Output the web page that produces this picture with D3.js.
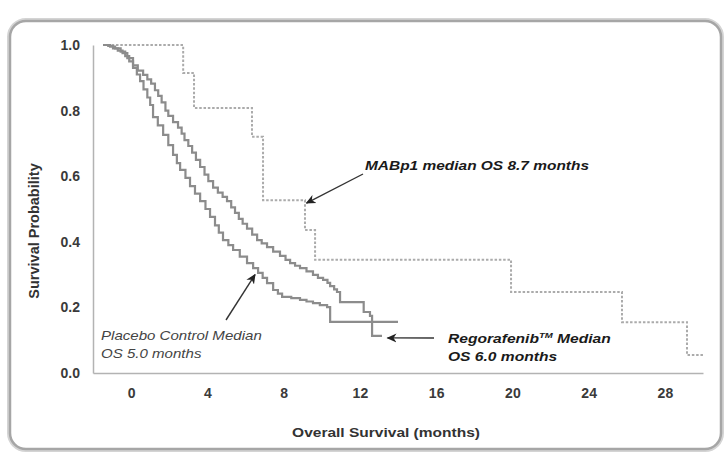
<!DOCTYPE html>
<html>
<head>
<meta charset="utf-8">
<script src="https://cdn.jsdelivr.net/npm/d3@7"></script>
<style>
  html, body { margin: 0; padding: 0; background: #fff; }
  svg { display: block; font-family: "Liberation Sans", Arial, sans-serif; }
</style>
</head>
<body>
<svg id="chart" width="725" height="453"></svg>
<script>
// ---------- data ----------
const xTicks = [0, 4, 8, 12, 16, 20, 24, 28];
const yTicks = [0.0, 0.2, 0.4, 0.6, 0.8, 1.0];

// MABp1 (dotted step curve): month at which the step starts, survival after it
const mabp1Time = [-1.47, 2.73, 3.30, 6.34, 6.92, 9.12, 9.65, 19.93, 25.75, 29.16, 30.0];
const mabp1Surv = [1.00, 0.915, 0.808, 0.72, 0.527, 0.436, 0.345, 0.247, 0.155, 0.055, 0.055];

// Regorafenib (upper solid curve)
const regoTime = [-1.47, -1.2, -0.95, -0.7, -0.45, -0.2, 0.1, 0.35, 0.63, 0.85, 1.05, 1.25, 1.42, 1.6, 1.8,
  1.95, 2.2, 2.46, 2.65, 2.8, 3.0, 3.2, 3.4, 3.62, 3.85, 4.05, 4.3, 4.55, 4.8, 5.03, 5.25, 5.45, 5.65,
  5.85, 6.08, 6.35, 6.61, 6.85, 7.13, 7.45, 7.81, 8.1, 8.34, 8.6, 8.86, 9.2, 9.54, 9.8, 10.07, 10.3,
  10.44, 10.65, 10.80, 10.96, 12.2, 12.53, 12.64, 13.16];
const regoSurv = [1.00, 0.997, 0.99, 0.983, 0.975, 0.96, 0.938, 0.922, 0.909, 0.895, 0.882, 0.862, 0.845, 0.825, 0.80,
  0.784, 0.765, 0.748, 0.73, 0.71, 0.692, 0.672, 0.65, 0.628, 0.605, 0.585, 0.565, 0.55, 0.537, 0.524, 0.505, 0.488, 0.47,
  0.455, 0.44, 0.422, 0.405, 0.395, 0.384, 0.37, 0.357, 0.345, 0.335, 0.327, 0.32, 0.31, 0.299, 0.29, 0.284, 0.275,
  0.265, 0.255, 0.247, 0.216, 0.186, 0.174, 0.113, 0.113];

// Placebo control (lower solid curve)
const placeboTime = [-1.47, -1.1, -0.84, -0.55, -0.31, -0.1, 0.1, 0.3, 0.47, 0.65, 0.85, 1.0, 1.15, 1.4, 1.68,
  1.95, 2.2, 2.4, 2.57, 2.85, 3.09, 3.35, 3.62, 3.9, 4.14, 4.4, 4.6, 4.82, 5.1, 5.35, 5.7, 6.08, 6.4,
  6.66, 6.9, 7.13, 7.45, 7.7, 7.92, 8.4, 8.86, 9.2, 9.54, 9.9, 10.28, 10.44, 14.0];
const placeboSurv = [1.00, 0.995, 0.99, 0.98, 0.966, 0.95, 0.93, 0.91, 0.89, 0.865, 0.84, 0.817, 0.78, 0.755, 0.726,
  0.695, 0.665, 0.64, 0.619, 0.595, 0.57, 0.547, 0.524, 0.50, 0.476, 0.45, 0.428, 0.405, 0.39, 0.375, 0.355, 0.335, 0.32,
  0.305, 0.29, 0.274, 0.253, 0.242, 0.232, 0.228, 0.223, 0.218, 0.213, 0.207, 0.201, 0.156, 0.156];

// annotation texts
const mabLabel = ["MABp1 median OS 8.7 months"];
const placeboLabel = ["Placebo Control Median", "OS 5.0 months"];
const regoLabel = ["Regorafenib", "OS 6.0 months"];
const xTitle = "Overall Survival (months)";
const yTitle = "Survival Probability";

// ---------- drawing ----------
const svg = d3.select("#chart");

// rounded frame
svg.append("rect")
  .attr("x", 10).attr("y", 21).attr("width", 711).attr("height", 428)
  .attr("rx", 16).attr("ry", 16)
  .attr("fill", "none").attr("stroke", "#d4d4d4").attr("stroke-width", 6);
svg.append("rect")
  .attr("x", 10).attr("y", 21).attr("width", 711).attr("height", 428)
  .attr("rx", 16).attr("ry", 16)
  .attr("fill", "#fff").attr("stroke", "#a6a6a6").attr("stroke-width", 2.5);

const x = d3.scaleLinear().domain([-2, 30]).range([93, 703]);
const y = d3.scaleLinear().domain([0, 1]).range([373, 45]);

// axes
const xAxis = svg.append("g").attr("transform", `translate(0,${y(0)})`)
  .call(d3.axisBottom(x).tickValues(xTicks).tickSize(0).tickSizeOuter(0).tickPadding(15));
const yAxis = svg.append("g").attr("transform", `translate(${x(-2)},0)`)
  .call(d3.axisLeft(y).tickValues(yTicks).tickFormat(d3.format(".1f")).tickSize(0).tickSizeOuter(0).tickPadding(13));

[xAxis, yAxis].forEach(g => {
  g.select(".domain").attr("stroke", "#b3b3b3").attr("stroke-width", 1.5);
  g.selectAll(".tick text")
    .attr("font-family", "Liberation Sans, Arial, sans-serif")
    .attr("font-size", 14).attr("font-weight", "bold").attr("fill", "#3a3a3a");
});

// axis titles (the source picture is slightly stretched horizontally)
svg.append("g").attr("transform", "translate(386,437) scale(1.15,1)")
  .append("text").attr("text-anchor", "middle")
  .attr("font-size", 13.5).attr("font-weight", "bold").attr("fill", "#333")
  .text(xTitle);
svg.append("text")
  .attr("transform", `translate(39,231) rotate(-90)`).attr("text-anchor", "middle")
  .attr("font-size", 14.5).attr("font-weight", "bold").attr("fill", "#333")
  .text(yTitle);

// curves
const step = d3.line().x(d => x(d[0])).y(d => y(d[1])).curve(d3.curveStepAfter);
const zip = (a, b) => a.map((t, i) => [t, b[i]]);

svg.append("path").datum(zip(mabp1Time, mabp1Surv))
  .attr("d", step).attr("fill", "none")
  .attr("stroke", "#ababab").attr("stroke-width", 2).attr("stroke-dasharray", "2.5,1.8");
svg.append("path").datum(zip(placeboTime, placeboSurv))
  .attr("d", step).attr("fill", "none")
  .attr("stroke", "#8c8c8c").attr("stroke-width", 2.2);
svg.append("path").datum(zip(regoTime, regoSurv))
  .attr("d", step).attr("fill", "none")
  .attr("stroke", "#8c8c8c").attr("stroke-width", 2.2);

// arrow marker
const defs = svg.append("defs");
defs.append("marker").attr("id", "arr")
  .attr("viewBox", "0 -5 10 10").attr("refX", 9).attr("refY", 0)
  .attr("markerWidth", 10).attr("markerHeight", 10).attr("markerUnits", "userSpaceOnUse")
  .attr("orient", "auto")
  .append("path").attr("d", "M0,-4.5 L10,0 L0,4.5 L3,0 Z").attr("fill", "#222");

function arrow(x1, y1, x2, y2) {
  svg.append("line").attr("x1", x1).attr("y1", y1).attr("x2", x2).attr("y2", y2)
    .attr("stroke", "#333").attr("stroke-width", 1.4).attr("marker-end", "url(#arr)");
}
arrow(363, 174, x(9.2), y(0.518));
arrow(226, 320, x(6.5), y(0.30));
arrow(434, 338, x(13.45), y(0.107));

// annotation texts
svg.append("g").attr("transform", "translate(365,170) scale(1.19,1)")
  .append("text")
  .attr("font-size", 13).attr("font-weight", "bold").attr("font-style", "italic").attr("fill", "#1a1a1a")
  .text(mabLabel[0]);

const pl = svg.append("g").attr("transform", "translate(101,340) scale(1.16,1)")
  .append("text").attr("font-size", 13).attr("font-style", "italic").attr("fill", "#444");
pl.append("tspan").attr("x", 0).attr("y", 0).text(placeboLabel[0]);
pl.append("tspan").attr("x", 0).attr("y", 18).text(placeboLabel[1]);

const rg = svg.append("g").attr("transform", "translate(448,343) scale(1.2,1)")
  .append("text").attr("font-size", 13).attr("font-weight", "bold").attr("font-style", "italic").attr("fill", "#1a1a1a");
const l1 = rg.append("tspan").attr("x", 0).attr("y", 0);
l1.append("tspan").text(regoLabel[0]);
l1.append("tspan").attr("font-size", 8).attr("dy", -5).text("TM");
l1.append("tspan").attr("dy", 5).text(" Median");
rg.append("tspan").attr("x", 0).attr("y", 18).text(regoLabel[1]);
</script>
</body>
</html>
